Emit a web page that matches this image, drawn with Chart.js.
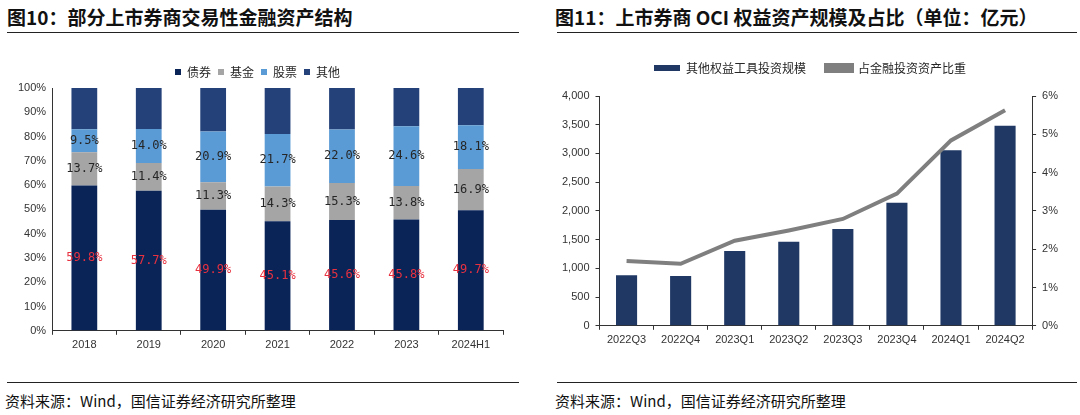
<!DOCTYPE html>
<html>
<head>
<meta charset="utf-8">
<script src="https://cdn.jsdelivr.net/npm/chart.js@4.4.0/dist/chart.umd.min.js"></script>
<style>
  body { margin: 0; background: #fff; width: 1080px; height: 415px; position: relative; overflow: hidden; font-family: "Noto Sans CJK SC", sans-serif; }
  .title { position: absolute; top: 3px; font-size: 19px; font-weight: 700; color: #111; white-space: nowrap; }
  .rule { position: absolute; height: 1px; background: #222; }
  .foot { position: absolute; top: 390px; font-size: 15px; color: #111; white-space: nowrap; }
  .box { position: absolute; top: 40px; }
</style>
</head>
<body>
<div class="title" style="left:7px">图10：部分上市券商交易性金融资产结构</div>
<div class="rule" style="left:7px; width:512px; top:32px"></div>
<div class="box" style="left:0; width:530px; height:330px"><canvas id="Chart1"></canvas></div>
<div class="rule" style="left:7px; width:512px; top:382px"></div>
<div class="foot" style="left:5px">资料来源：Wind，国信证券经济研究所整理</div>

<div class="title" style="left:555px">图11：上市券商 OCI 权益资产规模及占比（单位：亿元）</div>
<div class="rule" style="left:557px; width:520px; top:32px"></div>
<div class="box" style="left:540px; width:540px; height:330px"><canvas id="Chart2"></canvas></div>
<div class="rule" style="left:557px; width:520px; top:382px"></div>
<div class="foot" style="left:555px">资料来源：Wind，国信证券经济研究所整理</div>

<script>
// 图10
const years = ['2018', '2019', '2020', '2021', '2022', '2023', '2024H1'];
const bonds = [59.8, 57.7, 49.9, 45.1, 45.6, 45.8, 49.7];
const funds = [13.7, 11.4, 11.3, 14.3, 15.3, 13.8, 16.9];
const stocks = [9.5, 14.0, 20.9, 21.7, 22.0, 24.6, 18.1];
const others = [17.0, 16.9, 17.9, 18.9, 17.1, 15.8, 15.3];

// 图11
const quarters = ['2022Q3', '2022Q4', '2023Q1', '2023Q2', '2023Q3', '2023Q4', '2024Q1', '2024Q2'];
const ociScale = [880, 865, 1300, 1465, 1685, 2140, 3055, 3480];
const ociShare = [1.69, 1.62, 2.22, 2.49, 2.79, 3.45, 4.84, 5.63];

const tickFont = { family: 'Liberation Sans, Arial, sans-serif', size: 11 };
const legendFont = { family: 'Noto Sans CJK SC, sans-serif', size: 12 };

// 柱内数值标签
const barLabels = {
    id: 'barLabels',
    afterDatasetsDraw(chart) {
        const ctx = chart.ctx;
        ctx.save();
        ctx.font = '12px "DejaVu Sans Mono", monospace';
        ctx.textAlign = 'center';
        ctx.textBaseline = 'middle';
        [0, 1, 2].forEach(i => {
            const meta = chart.getDatasetMeta(i);
            meta.data.forEach((bar, j) => {
                const v = chart.data.datasets[i].data[j];
                ctx.fillStyle = i === 0 ? '#e8313f' : '#262626';
                ctx.fillText(v.toFixed(1) + '%', bar.x, (bar.y + bar.base) / 2);
            });
        });
        ctx.restore();
    }
};

// 图例下方留白
const legendGap = {
    id: 'legendGap',
    beforeInit(chart) {
        const fit = chart.legend.fit;
        chart.legend.fit = function () {
            fit.bind(chart.legend)();
            this.height += 12;
        };
    }
};

function GenerateChart1() {

    const ctx = document.getElementById('Chart1');

    new Chart(ctx, {
        type: 'bar',
        data: {
            labels: years,
            datasets: [
                { label: '债券', data: bonds, backgroundColor: '#0b2458' },
                { label: '基金', data: funds, backgroundColor: '#a5a5a5' },
                { label: '股票', data: stocks, backgroundColor: '#5b9bd5' },
                { label: '其他', data: others, backgroundColor: '#24417a' }
            ]
        },
        options: {
            responsive: true,
            maintainAspectRatio: false,
            animation: false,
            layout: { padding: { left: 12, right: 27, top: 19, bottom: 14 } },
            datasets: { bar: { barPercentage: 0.4, categoryPercentage: 1 } },
            plugins: {
                tooltip: { enabled: false },
                legend: {
                    labels: { boxWidth: 6, boxHeight: 6, padding: 7, color: '#262626', font: legendFont }
                }
            },
            scales: {
                x: {
                    stacked: true,
                    grid: { display: true, drawOnChartArea: false, offset: true, tickLength: 4, color: '#333' },
                    border: { color: '#333' },
                    ticks: { color: '#333', font: tickFont, padding: 4 }
                },
                y: {
                    stacked: true,
                    min: 0,
                    max: 100,
                    grid: { display: true, drawOnChartArea: false, tickLength: 0, color: '#333' },
                    border: { color: '#333' },
                    ticks: { stepSize: 10, color: '#333', font: tickFont, padding: 6, callback: v => v + '%' }
                }
            }
        },
        plugins: [barLabels]
    });
}

function GenerateChart2() {

    const ctx = document.getElementById('Chart2');

    new Chart(ctx, {
        type: 'bar',
        data: {
            labels: quarters,
            datasets: [
                {
                    label: '其他权益工具投资规模',
                    data: ociScale,
                    backgroundColor: '#1f3864',
                    yAxisID: 'y',
                    order: 2
                },
                {
                    type: 'line',
                    label: '占金融投资资产比重',
                    data: ociShare,
                    borderColor: '#7f7f7f',
                    backgroundColor: '#7f7f7f',
                    borderWidth: 4,
                    pointRadius: 0,
                    tension: 0,
                    yAxisID: 'y1',
                    order: 1
                }
            ]
        },
        options: {
            responsive: true,
            maintainAspectRatio: false,
            animation: false,
            layout: { padding: { left: 16, right: 16, top: 2, bottom: 19 } },
            datasets: { bar: { barPercentage: 0.39, categoryPercentage: 1 } },
            plugins: {
                tooltip: { enabled: false },
                legend: {
                    labels: {
                        boxWidth: 26, boxHeight: 6, padding: 20, color: '#262626', font: legendFont,
                        sort: (a, b) => a.datasetIndex - b.datasetIndex
                    }
                }
            },
            scales: {
                x: {
                    grid: { display: true, drawOnChartArea: false, offset: true, tickLength: 4, color: '#333' },
                    border: { color: '#333' },
                    ticks: { color: '#333', font: tickFont, padding: 4 }
                },
                y: {
                    position: 'left',
                    min: 0,
                    max: 4000,
                    grid: { display: true, drawOnChartArea: false, tickLength: 4, color: '#333' },
                    border: { color: '#333' },
                    ticks: { stepSize: 500, color: '#333', font: tickFont, padding: 6,
                        callback: v => v.toLocaleString('en-US') }
                },
                y1: {
                    position: 'right',
                    min: 0,
                    max: 6,
                    grid: { display: true, drawOnChartArea: false, tickLength: 4, color: '#333' },
                    border: { color: '#333' },
                    ticks: { stepSize: 1, color: '#333', font: tickFont, padding: 6, callback: v => v + '%' }
                }
            }
        },
        plugins: [legendGap]
    });
}

GenerateChart1();
GenerateChart2();
</script>
</body>
</html>
